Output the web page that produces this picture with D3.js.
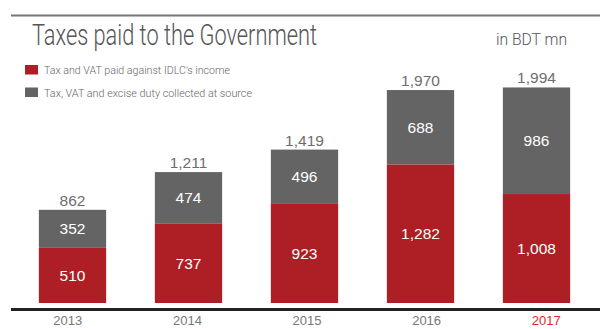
<!DOCTYPE html>
<html>
<head>
<meta charset="utf-8">
<script src="https://cdn.jsdelivr.net/npm/d3@7"></script>
<style>
  html, body { margin: 0; padding: 0; background: #fff; }
  svg { display: block; }
</style>
</head>
<body>
<svg id="chart" width="600" height="329"></svg>
<script>
// Chart data (BDT mn)
const years = ["2013", "2014", "2015", "2016", "2017"];
const incomeTax = [510, 737, 923, 1282, 1008];
const sourceTax = [352, 474, 496, 688, 986];
const totals = [862, 1211, 1419, 1970, 1994];
const seriesNames = [
  "Tax and VAT paid against IDLC's income",
  "Tax, VAT and excise duty collected at source"
];

const RED = "#ad1f24";
const GRAY = "#646464";
const fmt = d3.format(",");

const svg = d3.select("#chart");
const W = 600;

// Scales
const x = d3.scaleBand().domain(years).range([14.5, 594.5]).paddingInner(0.42).paddingOuter(0.21);
const xLabels = d3.scaleBand().domain(years).range([8, 606]);
const y = d3.scaleLinear().domain([0, 2000]).range([303, 86.8]);

// Top rule
svg.append("line")
  .attr("x1", 11).attr("x2", W).attr("y1", 15.5).attr("y2", 15.5)
  .attr("stroke", "#777").attr("stroke-width", 2);

// Title
svg.append("text")
  .attr("x", 32).attr("y", 45)
  .attr("font-family", "Roboto, sans-serif").attr("font-weight", 300)
  .attr("font-size", 29).attr("fill", "#555")
  .attr("textLength", 285).attr("lengthAdjust", "spacingAndGlyphs")
  .text("Taxes paid to the Government");

svg.append("text")
  .attr("x", 496).attr("y", 45)
  .attr("font-family", "Roboto, sans-serif").attr("font-weight", 300)
  .attr("font-size", 16.5).attr("fill", "#555")
  .attr("textLength", 71).attr("lengthAdjust", "spacingAndGlyphs")
  .text("in BDT mn");

// Legend
const legend = svg.append("g");
const legendRows = [
  { name: seriesNames[0], color: RED, y: 65, len: 186 },
  { name: seriesNames[1], color: GRAY, y: 87.5, len: 208 }
];
legendRows.forEach(r => {
  legend.append("rect").attr("x", 25).attr("y", r.y).attr("width", 13).attr("height", 9.5).attr("fill", r.color);
  legend.append("text")
    .attr("x", 44).attr("y", r.y + 9)
    .attr("font-family", "Roboto, sans-serif").attr("font-weight", 300)
    .attr("font-size", 11.5).attr("fill", "#666")
    .attr("textLength", r.len).attr("lengthAdjust", "spacingAndGlyphs")
    .text(r.name);
});

// Stacked bars
const rows = years.map((yr, i) => ({ year: yr, a: incomeTax[i], b: sourceTax[i], total: totals[i] }));
const stack = d3.stack().keys(["a", "b"])(rows);
const colors = { a: RED, b: GRAY };

const layers = svg.append("g").selectAll("g").data(stack).join("g").attr("fill", d => colors[d.key]);
layers.selectAll("rect").data(d => d).join("rect")
  .attr("x", d => x(d.data.year))
  .attr("width", x.bandwidth())
  .attr("y", d => y(d[1]))
  .attr("height", d => y(d[0]) - y(d[1]));

// Segment value labels
layers.each(function(layer) {
  d3.select(this).selectAll("text").data(layer).join("text")
    .attr("x", d => x(d.data.year) + x.bandwidth() / 2)
    .attr("y", d => (y(d[0]) + y(d[1])) / 2)
    .attr("dy", "0.36em")
    .attr("text-anchor", "middle")
    .attr("font-family", "'Liberation Sans', Arial, sans-serif")
    .attr("font-size", 15.5).attr("fill", "#fff")
    .text(d => fmt(d[1] - d[0]));
});

// Total labels above bars
svg.append("g").selectAll("text").data(rows).join("text")
  .attr("x", d => x(d.year) + x.bandwidth() / 2)
  .attr("y", d => y(d.total) - 4)
  .attr("text-anchor", "middle")
  .attr("font-family", "'Liberation Sans', Arial, sans-serif")
  .attr("font-size", 15.5).attr("fill", "#6e6e6e")
  .text(d => fmt(d.total));

// Baseline
svg.append("line")
  .attr("x1", 11).attr("x2", W).attr("y1", 309.5).attr("y2", 309.5)
  .attr("stroke", "#222").attr("stroke-width", 3);

// Year axis
const axis = svg.append("g")
  .attr("transform", "translate(0,313)")
  .call(d3.axisBottom(xLabels).tickSize(0).tickPadding(0));
axis.select(".domain").remove();
axis.selectAll("text")
  .attr("dy", "0.95em")
  .attr("font-family", "'Liberation Sans', Arial, sans-serif")
  .attr("font-size", 13)
  .attr("fill", d => d === "2017" ? "#e3262b" : "#777");
</script>
</body>
</html>
